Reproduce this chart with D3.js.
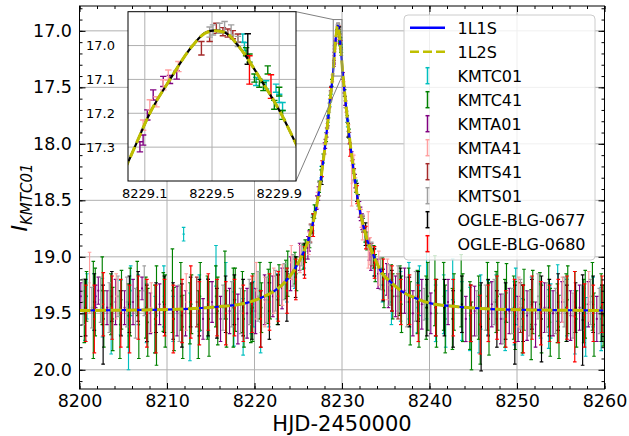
<!DOCTYPE html>
<html><head><meta charset="utf-8">
<script src="https://cdn.jsdelivr.net/npm/d3@7"></script>
<style>body{margin:0;background:#fff}svg{display:block;font-family:"DejaVu Sans",sans-serif}</style>
</head><body><svg id="c" width="629" height="436"></svg>
<script>
// ---------------- DATA ----------------
const xTicks=[8200,8210,8220,8230,8240,8250,8260];
const yTicks=[17.0,17.5,18.0,18.5,19.0,19.5,20.0];
const insetXTicks=[8229.1,8229.5,8229.9];
const insetYTicks=[17.0,17.1,17.2,17.3];
const seriesNames=["KMTC01","KMTC41","KMTA01","KMTA41","KMTS41","KMTS01","OGLE-BLG-0677","OGLE-BLG-0680"];
const modelNames=["1L1S","1L2S"];

const modelT=[8200,8207.52,8212.52,8216.02,8219.02,8220.82,8222.32,8223.52,8224.52,8225.42,8226.12,8226.62,8227.10,8227.60,8228.10,8228.50,8228.80,8229.00,8229.04,8229.13,8229.25,8229.385,8229.46,8229.52,8229.58,8229.655,8229.79,8229.91,8230.00,8230.04,8230.24,8230.54,8230.94,8231.44,8231.94,8232.42,8232.92,8233.62,8234.52,8235.52,8236.72,8238.22,8240.02,8243.02,8246.52,8251.52,8260];
const model1L1S=[19.475,19.47,19.46,19.44,19.41,19.36,19.30,19.22,19.12,18.99,18.86,18.72,18.55,18.30,18.00,17.72,17.50,17.345,17.30,17.20,17.10,17.00,16.962,16.955,16.962,17.00,17.10,17.20,17.29,17.33,17.50,17.72,18.00,18.30,18.55,18.72,18.86,18.99,19.14,19.22,19.30,19.36,19.41,19.44,19.46,19.47,19.475];
const model1L2S=[19.475,19.47,19.46,19.44,19.41,19.36,19.30,19.22,19.12,18.99,18.86,18.72,18.55,18.30,18.00,17.72,17.50,17.345,17.30,17.20,17.10,17.00,16.963,16.956,16.962,17.00,17.10,17.20,17.29,17.33,17.50,17.72,18.00,18.30,18.55,18.72,18.86,18.99,19.14,19.22,19.30,19.36,19.41,19.44,19.46,19.47,19.475];

// [HJD-2450000, I mag, error]
const kmtc01=[[8200.62,19.52,0.22],[8200.85,19.35,0.20],[8201.65,19.40,0.25],[8202.62,19.45,0.26],[8203.62,19.58,0.28],[8204.70,19.45,0.24],[8205.60,19.70,0.30],[8205.85,19.30,0.22],[8206.72,19.38,0.22],[8207.66,19.50,0.26],[8208.66,19.60,0.25],[8209.64,19.35,0.27],[8210.70,19.55,0.20],[8211.90,18.80,0.06],[8212.62,19.62,0.30],[8213.70,19.41,0.25],[8214.66,19.45,0.26],[8215.60,19.08,0.18],[8216.72,19.30,0.25],[8217.65,19.55,0.24],[8218.70,19.62,0.25],[8219.62,19.46,0.22],[8219.85,19.42,0.20],[8220.70,19.58,0.27],[8221.65,19.40,0.22],[8222.62,19.35,0.20],[8223.70,19.25,0.15],[8224.60,19.15,0.13],[8225.66,19.00,0.10],[8226.65,18.70,0.07],[8227.62,18.25,0.05],[8228.40,17.78,0.03],[8228.60,17.64,0.03],[8228.75,17.53,0.03],
[8229.683,16.978,0.012],[8229.693,17.003,0.012],[8229.763,17.106,0.012],[8229.822,17.116,0.012],[8229.881,17.126,0.012],[8229.90,17.156,0.012],[8229.92,17.18,0.012],
[8230.65,17.82,0.03],[8231.62,18.37,0.05],[8232.66,18.82,0.08],[8233.70,19.05,0.12],[8234.62,19.25,0.15],[8235.65,19.40,0.20],[8236.70,19.35,0.22],[8237.65,19.30,0.25],[8238.62,19.45,0.22],[8238.85,19.30,0.22],[8239.66,19.25,0.30],[8240.70,19.50,0.25],[8241.62,19.42,0.26],[8241.85,19.55,0.25],[8242.65,19.20,0.18],[8243.70,19.48,0.26],[8244.62,19.55,0.28],[8245.66,19.60,0.25],[8245.85,19.40,0.24],[8246.70,19.45,0.24],[8247.62,19.38,0.22],[8248.65,19.58,0.25],[8249.70,19.50,0.28],[8249.85,19.35,0.25],[8250.62,19.62,0.25],[8251.66,19.40,0.22],[8252.70,19.48,0.24],[8253.62,19.55,0.26],[8253.85,19.48,0.24],[8254.65,19.32,0.25],[8255.70,19.45,0.25],[8256.62,19.58,0.28],[8257.66,19.52,0.24],[8257.85,19.62,0.26],[8258.70,19.40,0.22],[8259.62,19.55,0.28]];
const kmtc41=[[8200.55,19.48,0.28],[8200.80,19.35,0.22],[8201.58,19.47,0.43],[8201.80,19.40,0.30],[8202.60,19.30,0.30],[8202.78,19.55,0.25],[8203.58,19.42,0.27],[8203.80,19.55,0.28],[8204.62,19.60,0.30],[8204.80,19.38,0.26],[8205.56,19.52,0.28],[8205.80,19.40,0.30],[8206.60,19.28,0.24],[8206.78,19.60,0.30],[8207.58,19.45,0.27],[8207.80,19.58,0.30],[8208.62,19.55,0.30],[8208.80,19.52,0.44],[8209.58,19.40,0.26],[8209.80,19.48,0.32],[8210.62,19.30,0.37],[8210.80,19.55,0.28],[8211.58,19.35,0.30],[8211.80,19.62,0.28],[8212.62,19.50,0.27],[8212.80,19.42,0.26],[8213.58,19.60,0.30],[8213.80,19.35,0.30],[8214.62,19.45,0.28],[8214.80,19.55,0.33],[8215.58,19.35,0.27],[8215.80,19.48,0.30],[8216.62,19.25,0.30],[8216.80,19.55,0.25],[8217.58,19.45,0.35],[8217.80,19.38,0.28],[8218.62,19.40,0.27],[8218.80,19.55,0.25],[8219.58,19.50,0.26],[8219.80,19.45,0.30],[8220.62,19.30,0.25],[8220.80,19.45,0.22],[8221.58,19.35,0.24],[8221.80,19.30,0.25],[8222.62,19.38,0.22],[8222.80,19.25,0.18],[8223.58,19.20,0.17],[8223.80,19.15,0.20],[8224.62,19.10,0.14],[8224.80,19.15,0.15],[8225.58,19.00,0.11],[8225.80,18.95,0.10],[8226.30,18.84,0.08],[8226.62,18.72,0.07],[8226.85,18.60,0.06],[8227.40,18.38,0.05],[8227.62,18.28,0.05],[8227.85,18.13,0.04],[8228.20,17.94,0.04],[8228.45,17.74,0.03],[8228.65,17.60,0.03],[8228.85,17.46,0.03],
[8229.703,17.018,0.012],[8229.723,17.037,0.012],[8229.753,17.096,0.012],[8229.782,17.111,0.012],[8229.806,17.121,0.012],[8229.832,17.072,0.012],[8229.871,17.175,0.013],[8229.90,17.136,0.013],[8229.92,17.205,0.013],
[8230.30,17.55,0.03],[8230.60,17.78,0.03],[8230.80,17.91,0.04],[8231.30,18.22,0.04],[8231.60,18.38,0.05],[8231.85,18.50,0.05],[8232.40,18.72,0.06],[8232.65,18.80,0.07],[8232.85,18.86,0.08],[8233.62,19.00,0.10],[8233.80,19.10,0.12],[8234.62,19.15,0.14],[8234.80,19.30,0.15],[8235.62,19.25,0.18],[8235.80,19.35,0.20],[8236.62,19.30,0.22],[8236.80,19.42,0.25],[8237.62,19.35,0.25],[8237.80,19.50,0.28],[8238.62,19.40,0.28],[8238.80,19.55,0.25],[8239.62,19.45,0.28],[8239.80,19.35,0.30],[8240.62,19.30,0.31],[8240.80,19.50,0.30],[8241.62,19.35,0.30],[8241.80,19.55,0.30],[8242.62,19.55,0.27],[8242.80,19.40,0.25],[8243.62,19.30,0.32],[8243.80,19.45,0.30],[8244.62,19.52,0.30],[8244.80,19.70,0.30],[8245.62,19.45,0.28],[8245.80,19.60,0.35],[8246.62,19.35,0.30],[8246.80,19.55,0.32],[8247.62,19.40,0.27],[8247.80,19.35,0.30],[8248.62,19.50,0.30],[8248.80,19.32,0.26],[8249.62,19.45,0.28],[8249.80,19.52,0.30],[8250.62,19.55,0.30],[8250.80,19.38,0.27],[8251.62,19.60,0.31],[8251.80,19.40,0.28],[8252.62,19.42,0.28],[8252.80,19.55,0.30],[8253.62,19.35,0.27],[8253.80,19.58,0.30],[8254.62,19.50,0.26],[8254.80,19.62,0.28],[8255.62,19.45,0.30],[8255.80,19.38,0.30],[8256.62,19.40,0.27],[8256.80,19.55,0.25],[8257.62,19.48,0.28],[8257.80,19.42,0.30],[8258.62,19.35,0.30],[8258.80,19.60,0.28],[8259.62,19.45,0.30],[8259.85,19.52,0.27]];
const kmta01=[[8200.15,19.35,0.12],[8201.85,19.35,0.10],[8202.15,19.30,0.12],[8203.15,19.45,0.15],[8204.12,19.40,0.20],[8205.15,19.45,0.15],[8206.12,19.40,0.20],[8207.15,19.28,0.10],[8208.10,19.50,0.18],[8209.15,19.42,0.18],[8211.15,19.48,0.22],[8212.12,19.50,0.20],[8214.12,19.55,0.18],[8215.15,19.40,0.18],[8216.12,19.55,0.20],[8217.15,19.48,0.20],[8218.10,19.55,0.22],[8219.15,19.50,0.22],[8220.12,19.48,0.20],[8221.15,19.38,0.22],[8222.10,19.35,0.18],[8223.15,19.28,0.18],[8224.12,19.15,0.15],[8225.15,19.00,0.12],[8226.10,18.92,0.10],[8226.25,18.86,0.09],[8227.12,18.52,0.06],[8227.30,18.44,0.06],[8228.00,18.04,0.05],[8228.10,18.00,0.04],[8228.25,17.90,0.04],[8228.35,17.82,0.04],[8228.70,17.57,0.04],
[8229.071,17.299,0.015],[8229.09,17.279,0.015],[8229.115,17.205,0.015],[8229.15,17.146,0.015],[8229.21,17.106,0.015],[8229.25,17.10,0.012],[8229.29,17.087,0.012],
[8230.12,17.40,0.03],[8230.25,17.52,0.03],[8230.35,17.62,0.04],[8230.85,17.95,0.05],[8231.12,18.11,0.04],[8231.25,18.19,0.05],[8231.50,18.33,0.06],[8232.00,18.58,0.07],[8232.12,18.62,0.06],[8232.30,18.69,0.07],[8233.12,18.93,0.10],[8233.30,19.00,0.12],[8234.12,19.15,0.13],[8235.12,19.20,0.14],[8235.30,19.30,0.15],[8236.12,19.35,0.18],[8237.15,19.30,0.20],[8238.10,19.50,0.20],[8239.12,19.42,0.22],[8240.15,19.50,0.18],[8242.12,19.40,0.20],[8244.15,19.55,0.20],[8245.15,19.48,0.22],[8247.12,19.42,0.20],[8248.15,19.55,0.22],[8249.12,19.48,0.20],[8250.12,19.55,0.20],[8251.15,19.52,0.22],[8252.12,19.60,0.20],[8253.15,19.45,0.22],[8254.12,19.50,0.20],[8255.15,19.40,0.18],[8256.12,19.52,0.22],[8257.15,19.45,0.20],[8258.15,19.42,0.20],[8259.12,19.55,0.20]];
const kmta41=[[8201.15,19.23,0.27],[8204.20,19.35,0.20],[8208.20,19.45,0.22],[8212.20,19.40,0.25],[8220.20,19.30,0.25],[8221.20,19.40,0.22],[8222.20,19.30,0.20],[8223.20,19.25,0.18],[8224.20,19.05,0.15],[8225.20,19.02,0.12],[8226.20,18.88,0.10],[8227.20,18.50,0.07],[8228.00,18.05,0.04],[8228.20,17.95,0.04],[8228.30,17.86,0.04],[8228.60,17.64,0.04],[8228.90,17.42,0.03],
[8229.09,17.235,0.015],[8229.13,17.175,0.015],[8229.17,17.166,0.015],[8229.21,17.116,0.015],[8229.24,17.087,0.015],[8229.30,17.062,0.015],
[8230.10,17.42,0.03],[8230.20,17.48,0.03],[8230.45,17.68,0.04],[8230.75,17.88,0.05],[8231.10,18.35,0.20],[8231.20,18.14,0.05],[8231.35,18.22,0.12],[8231.55,18.36,0.06],[8231.85,18.52,0.06],[8232.20,18.66,0.08],[8232.35,18.75,0.10],[8233.00,18.85,0.25],[8233.20,18.95,0.12],[8234.20,19.10,0.15],[8235.20,19.20,0.18],[8250.20,19.40,0.22],[8255.20,19.38,0.20],[8258.20,19.35,0.22]];
const kmts41=[[8213.40,19.40,0.22],[8226.40,18.79,0.08],[8227.40,18.40,0.06],[8228.40,17.80,0.04],
[8229.437,17.008,0.02],[8229.486,16.973,0.015],[8229.526,16.949,0.015],[8229.565,16.959,0.012],[8229.594,16.963,0.012],[8229.624,16.968,0.012],[8229.654,16.978,0.012],
[8230.40,17.65,0.03],[8231.40,18.27,0.05],[8232.40,18.71,0.07],[8233.40,18.98,0.10],[8236.40,19.35,0.20],[8250.40,19.45,0.22]];
const kmts01=[[8200.40,19.40,0.20],[8201.40,19.45,0.18],[8202.40,19.38,0.20],[8203.40,19.45,0.22],[8204.40,19.35,0.18],[8205.40,19.40,0.22],[8206.40,19.50,0.22],[8207.40,19.30,0.22],[8211.40,19.50,0.25],[8216.40,19.45,0.20],[8217.40,19.42,0.20],[8218.40,19.48,0.20],[8219.40,19.40,0.20],[8220.40,19.35,0.22],[8221.40,19.38,0.20],[8222.40,19.30,0.18],[8223.40,19.22,0.16],[8224.40,19.12,0.14],[8225.40,18.98,0.10],[8226.40,18.80,0.08],[8227.40,18.40,0.06],[8228.40,17.80,0.04],[8228.55,17.68,0.04],[8228.70,17.58,0.04],
[8229.486,16.96,0.015],[8229.506,16.954,0.015],[8229.545,16.949,0.015],[8229.575,16.944,0.015],[8229.614,16.954,0.015],[8229.654,16.988,0.015],
[8230.40,17.65,0.03],[8230.55,17.74,0.03],[8230.70,17.85,0.04],[8231.40,18.28,0.05],[8232.40,18.70,0.07],[8233.40,18.97,0.10],[8234.40,19.15,0.14],[8235.40,19.25,0.18],[8236.40,19.28,0.20],[8237.40,19.40,0.22],[8238.40,19.35,0.22],[8239.40,19.42,0.14],[8245.40,19.50,0.20],[8246.40,19.45,0.20],[8247.40,19.40,0.20],[8248.40,19.55,0.22],[8249.40,19.48,0.20],[8250.40,19.42,0.22],[8251.40,19.50,0.20],[8252.40,19.35,0.20],[8253.40,19.45,0.22],[8254.40,19.48,0.20],[8255.40,19.40,0.22],[8256.40,19.52,0.20],[8257.40,19.45,0.20],[8258.40,19.40,0.20],[8259.40,19.48,0.20]];
const ogle0677=[[8200.70,19.45,0.25],[8201.70,19.40,0.25],[8202.70,19.60,0.35],[8203.70,19.35,0.22],[8204.75,19.50,0.20],[8205.70,19.42,0.25],[8206.70,19.35,0.22],[8207.70,19.50,0.25],[8208.75,19.45,0.22],[8209.70,19.42,0.25],[8210.70,19.48,0.25],[8211.70,19.52,0.28],[8212.70,19.40,0.22],[8213.70,19.45,0.25],[8214.70,19.45,0.25],[8215.70,19.50,0.22],[8216.70,19.42,0.25],[8217.70,19.38,0.22],[8218.70,19.45,0.25],[8219.70,19.48,0.25],[8220.70,19.55,0.25],[8221.70,19.48,0.25],[8222.70,19.38,0.22],[8223.70,19.35,0.22],[8224.70,19.18,0.18],[8225.70,19.02,0.14],[8226.70,18.72,0.10],[8227.70,18.28,0.08],[8228.75,17.54,0.05],
[8229.713,17.01,0.045],
[8230.70,17.88,0.06],[8231.70,18.43,0.08],[8232.70,18.80,0.10],[8233.70,19.05,0.12],[8234.70,19.25,0.14],[8235.70,19.30,0.18],[8236.70,19.30,0.20],[8237.70,19.40,0.22],[8238.70,19.35,0.22],[8239.70,19.45,0.25],[8240.70,19.45,0.25],[8241.70,19.45,0.25],[8242.70,19.55,0.25],[8243.70,19.42,0.25],[8244.70,19.50,0.25],[8245.90,19.62,0.39],[8246.70,19.45,0.25],[8247.70,19.55,0.25],[8248.70,19.48,0.25],[8249.75,19.60,0.35],[8250.70,19.50,0.25],[8251.70,19.42,0.22],[8252.80,19.55,0.38],[8253.70,19.45,0.25],[8254.70,19.40,0.25],[8255.70,19.50,0.25],[8256.70,19.45,0.22],[8257.50,19.56,0.40],[8258.70,19.42,0.25],[8259.70,19.50,0.25]];
const ogle0680=[[8200.72,19.50,0.25],[8201.70,19.55,0.30],[8202.72,19.42,0.28],[8203.72,19.45,0.28],[8204.72,19.50,0.30],[8205.72,19.55,0.30],[8206.72,19.45,0.28],[8207.70,19.50,0.30],[8208.72,19.55,0.30],[8209.72,19.45,0.25],[8210.72,19.55,0.30],[8211.72,19.48,0.28],[8212.72,19.40,0.32],[8213.70,19.50,0.28],[8214.72,19.40,0.25],[8215.72,19.45,0.25],[8216.72,19.50,0.28],[8217.72,19.45,0.25],[8218.72,19.50,0.25],[8219.72,19.42,0.25],[8220.72,19.55,0.25],[8221.72,19.40,0.25],[8222.72,19.35,0.22],[8223.72,19.30,0.20],[8224.72,19.20,0.18],[8225.72,19.05,0.14],[8226.72,18.72,0.10],[8227.72,18.22,0.07],[8228.72,17.55,0.05],
[8229.723,17.072,0.042],[8229.851,17.121,0.035],
[8230.90,18.05,0.06],[8231.72,18.45,0.08],[8232.72,18.83,0.10],[8233.72,19.05,0.14],[8234.72,19.20,0.18],[8235.72,19.28,0.20],[8236.72,19.40,0.20],[8237.72,19.38,0.22],[8238.72,19.50,0.25],[8240.72,19.45,0.25],[8242.72,19.45,0.25],[8244.72,19.50,0.25],[8245.80,19.60,0.26],[8246.72,19.50,0.25],[8247.72,19.45,0.28],[8248.72,19.55,0.25],[8249.72,19.48,0.28],[8250.72,19.55,0.30],[8251.72,19.45,0.28],[8252.72,19.50,0.28],[8253.72,19.50,0.25],[8254.72,19.48,0.28],[8255.72,19.45,0.28],[8256.60,19.53,0.40],[8257.72,19.52,0.28],[8258.72,19.50,0.25],[8259.72,19.42,0.25]];

// ---------------- STYLE ----------------
const seriesData=[kmtc01,kmtc41,kmta01,kmta41,kmts41,kmts01,ogle0677,ogle0680];
const seriesColors=["#00bfbf","#008000","#800080","#ffa0a0","#a52a2a","#a0a0a0","#000000","#ff0000"];
const FONT='"DejaVu Sans", sans-serif';

const svg=d3.select('#c');
const M={l:79.5,r:604.5,t:6,b:389};
const x=d3.scaleLinear().domain([8200,8260]).range([M.l,M.r]);
const y=d3.scaleLinear().domain([16.78,20.17]).range([M.t,M.b]);
const I={l:128,r:296,t:11.7,b:181};
const xi=d3.scaleLinear().domain([8229.0,8230.0]).range([I.l,I.r]);
const yi=d3.scaleLinear().domain([16.9,17.4]).range([I.t,I.b]);

const defs=svg.append('defs');
defs.append('clipPath').attr('id','cm').append('rect').attr('x',M.l).attr('y',M.t).attr('width',M.r-M.l).attr('height',M.b-M.t);
defs.append('clipPath').attr('id','ci').append('rect').attr('x',I.l).attr('y',I.t).attr('width',I.r-I.l).attr('height',I.b-I.t);

// grid
const grid=svg.append('g').attr('stroke','#b0b0b0').attr('stroke-width',1);
grid.selectAll('.gx').data(xTicks).join('line').attr('x1',d=>x(d)).attr('x2',d=>x(d)).attr('y1',M.t).attr('y2',M.b);
grid.selectAll('.gy').data(yTicks).join('line').attr('y1',d=>y(d)).attr('y2',d=>y(d)).attr('x1',M.l).attr('x2',M.r);

function drawErr(g,data,xs,ys,color,cap,sw,r){
  const grp=g.append('g').attr('stroke',color).attr('fill',color).attr('stroke-width',sw);
  const pts=grp.selectAll('g').data(data).join('g');
  pts.append('line').attr('x1',d=>xs(d[0])).attr('x2',d=>xs(d[0])).attr('y1',d=>ys(d[1]-d[2])).attr('y2',d=>ys(d[1]+d[2]));
  pts.append('line').attr('x1',d=>xs(d[0])-cap).attr('x2',d=>xs(d[0])+cap).attr('y1',d=>ys(d[1]-d[2])).attr('y2',d=>ys(d[1]-d[2]));
  pts.append('line').attr('x1',d=>xs(d[0])-cap).attr('x2',d=>xs(d[0])+cap).attr('y1',d=>ys(d[1]+d[2])).attr('y2',d=>ys(d[1]+d[2]));
  if(r) pts.append('circle').attr('cx',d=>xs(d[0])).attr('cy',d=>ys(d[1])).attr('r',r).attr('stroke','none');
}

// main data, then models on top
const gm=svg.append('g').attr('clip-path','url(#cm)');
seriesData.forEach((s,i)=>drawErr(gm,s,x,y,seriesColors[i],1.8,1.15,1.1));
const line=(xs,ys,arr)=>d3.line().x((d,i)=>xs(modelT[i])).y(d=>ys(d)).curve(d3.curveMonotoneX)(arr);
gm.append('path').attr('d',line(x,y,model1L1S)).attr('fill','none').attr('stroke','#0000ff').attr('stroke-width',2.2);
gm.append('path').attr('d',line(x,y,model1L2S)).attr('fill','none').attr('stroke','#bfbf00').attr('stroke-width',3).attr('stroke-dasharray','11,4.5');

// axes (ticks inward, all four sides)
function styleAxis(g){g.attr('font-family',FONT).attr('font-size',17.5);g.select('.domain').remove();g.selectAll('.tick line').attr('stroke','#000');g.selectAll('.tick text').attr('fill','#000');}
svg.append('g').attr('transform',`translate(0,${M.b})`).call(d3.axisBottom(x).tickValues(xTicks).tickSize(-6).tickPadding(5.5).tickFormat(d3.format('d'))).call(styleAxis);
svg.append('g').attr('transform',`translate(0,${M.b})`).call(d3.axisBottom(x).tickValues(x.ticks(30)).tickSize(-3).tickFormat('')).call(styleAxis);
svg.append('g').attr('transform',`translate(0,${M.t})`).call(d3.axisTop(x).tickValues(xTicks).tickSize(-6).tickFormat('')).call(styleAxis);
svg.append('g').attr('transform',`translate(0,${M.t})`).call(d3.axisTop(x).tickValues(x.ticks(30)).tickSize(-3).tickFormat('')).call(styleAxis);
svg.append('g').attr('transform',`translate(${M.l},0)`).call(d3.axisLeft(y).tickValues(yTicks).tickSize(-6).tickPadding(7.5).tickFormat(d3.format('.1f'))).call(styleAxis);
svg.append('g').attr('transform',`translate(${M.l},0)`).call(d3.axisLeft(y).tickValues(y.ticks(34)).tickSize(-3).tickFormat('')).call(styleAxis);
svg.append('g').attr('transform',`translate(${M.r},0)`).call(d3.axisRight(y).tickValues(yTicks).tickSize(-6).tickFormat('')).call(styleAxis);
svg.append('g').attr('transform',`translate(${M.r},0)`).call(d3.axisRight(y).tickValues(y.ticks(34)).tickSize(-3).tickFormat('')).call(styleAxis);
svg.append('rect').attr('x',M.l).attr('y',M.t).attr('width',M.r-M.l).attr('height',M.b-M.t).attr('fill','none').attr('stroke','#000').attr('stroke-width',1);

// axis labels
svg.append('text').attr('x',(M.l+M.r)/2).attr('y',431).attr('text-anchor','middle').attr('font-family',FONT).attr('font-size',21).text('HJD-2450000');
const yl=svg.append('text').attr('transform',`translate(27,${(M.t+M.b)/2}) rotate(-90)`).attr('text-anchor','middle').attr('font-family',FONT);
yl.append('tspan').attr('font-style','italic').attr('font-size',22).text('I');
yl.append('tspan').attr('font-style','italic').attr('font-size',15).attr('dy',5).text('KMTC01');

// inset indicator
const ind=svg.append('g').attr('stroke','#808080').attr('stroke-width',1).attr('fill','none');
ind.append('rect').attr('x',x(8229.0)).attr('y',y(16.9)).attr('width',x(8230.0)-x(8229.0)).attr('height',y(17.4)-y(16.9));
ind.append('line').attr('x1',I.r).attr('y1',I.t).attr('x2',x(8229.0)).attr('y2',y(16.9));
ind.append('line').attr('x1',I.r).attr('y1',I.b).attr('x2',x(8230.0)).attr('y2',y(17.4));

// inset
const gi=svg.append('g');
gi.append('rect').attr('x',I.l).attr('y',I.t).attr('width',I.r-I.l).attr('height',I.b-I.t).attr('fill','#fff');
const ig=gi.append('g').attr('stroke','#b0b0b0').attr('stroke-width',1);
ig.selectAll('.a').data(insetXTicks).join('line').attr('x1',d=>xi(d)).attr('x2',d=>xi(d)).attr('y1',I.t).attr('y2',I.b);
ig.selectAll('.b').data(insetYTicks).join('line').attr('y1',d=>yi(d)).attr('y2',d=>yi(d)).attr('x1',I.l).attr('x2',I.r);
const gic=gi.append('g').attr('clip-path','url(#ci)');
seriesData.forEach((s,i)=>drawErr(gic,s.filter(d=>d[0]>=8229&&d[0]<=8230),xi,yi,seriesColors[i],3.2,1.4,0));
gic.append('path').attr('d',line(xi,yi,model1L1S)).attr('fill','none').attr('stroke','#000').attr('stroke-width',2.2);
gic.append('path').attr('d',line(xi,yi,model1L2S)).attr('fill','none').attr('stroke','#bfbf00').attr('stroke-width',3).attr('stroke-dasharray','11,4.5');
gi.append('rect').attr('x',I.l).attr('y',I.t).attr('width',I.r-I.l).attr('height',I.b-I.t).attr('fill','none').attr('stroke','#000').attr('stroke-width',1);
gi.selectAll('.xl').data(insetXTicks).join('text').attr('x',d=>xi(d)).attr('y',197.5).attr('text-anchor','middle').attr('font-family',FONT).attr('font-size',13).text(d=>d3.format('.1f')(d));
gi.selectAll('.yl').data(insetYTicks).join('text').attr('x',115).attr('y',d=>yi(d)+4.7).attr('text-anchor','end').attr('font-family',FONT).attr('font-size',13).text(d=>d3.format('.1f')(d));

// legend
const L=svg.append('g');
L.append('rect').attr('x',404).attr('y',15).attr('width',191).attr('height',245).attr('rx',4).attr('fill','#fff').attr('fill-opacity',0.8).attr('stroke','#cccccc').attr('stroke-width',1);
const rowY=i=>27.7+24*i;
L.append('line').attr('x1',410).attr('x2',445).attr('y1',rowY(0)).attr('y2',rowY(0)).attr('stroke','#0000ff').attr('stroke-width',2.5);
L.append('line').attr('x1',410).attr('x2',445).attr('y1',rowY(1)).attr('y2',rowY(1)).attr('stroke','#bfbf00').attr('stroke-width',2.5).attr('stroke-dasharray','9,4');
modelNames.forEach((n,i)=>L.append('text').attr('x',457.5).attr('y',rowY(i)+5.8).attr('font-family',FONT).attr('font-size',16).text(n));
seriesNames.forEach((n,i)=>{
  const cy=rowY(i+2), h=L.append('g').attr('stroke',seriesColors[i]).attr('stroke-width',1.5);
  h.append('line').attr('x1',427.5).attr('x2',427.5).attr('y1',cy-8).attr('y2',cy+8);
  h.append('line').attr('x1',425.5).attr('x2',429.5).attr('y1',cy-8).attr('y2',cy-8);
  h.append('line').attr('x1',425.5).attr('x2',429.5).attr('y1',cy+8).attr('y2',cy+8);
  L.append('text').attr('x',457.5).attr('y',cy+5.8).attr('font-family',FONT).attr('font-size',16).text(n);
});
</script></body></html>
